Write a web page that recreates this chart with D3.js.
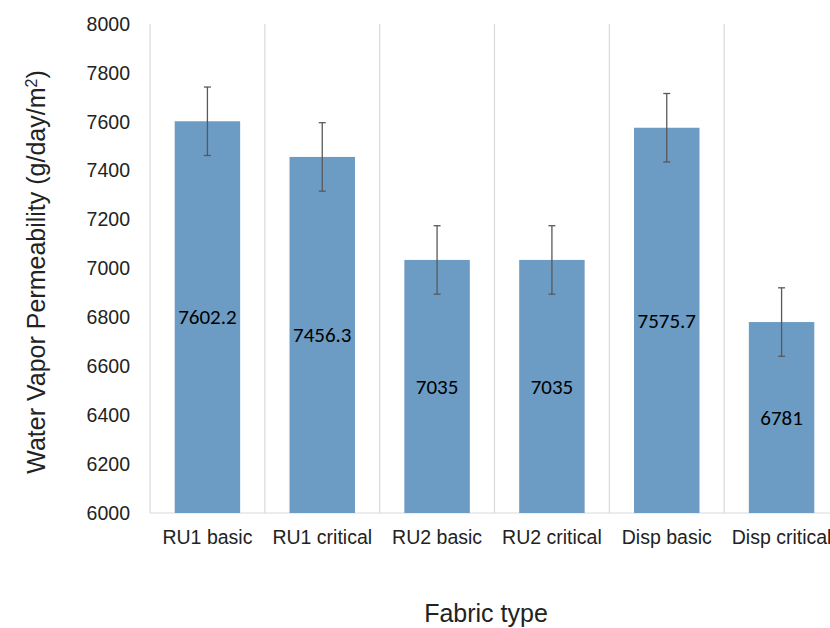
<!DOCTYPE html>
<html><head><meta charset="utf-8">
<script src="https://cdn.jsdelivr.net/npm/d3@7"></script>
<style>body{margin:0;background:#fff;} svg{display:block;}</style>
</head><body>
<svg id="c" width="830" height="628"></svg>
<script>
const categories = ["RU1 basic","RU1 critical","RU2 basic","RU2 critical","Disp basic","Disp critical"];
const values = [7602.2, 7456.3, 7035, 7035, 7575.7, 6781];
const errors = [140, 140, 140, 140, 140, 140];
const yTicks = [6000,6200,6400,6600,6800,7000,7200,7400,7600,7800,8000];

const svg = d3.select("#c");
const pL = 150, pR = 839, pT = 24, pB = 513;
const x = d3.scaleBand().domain(categories).range([pL, pR]).paddingInner(0.43).paddingOuter(0.215);
const xb = d3.scaleBand().domain(categories).range([pL, pR]);
const y = d3.scaleLinear().domain([6000, 8000]).range([pB, pT]);
const ff = "'Liberation Sans', Arial, sans-serif";

// vertical separators
svg.append("g").selectAll("line").data(categories).join("line")
  .attr("x1", d => xb(d)).attr("x2", d => xb(d))
  .attr("y1", pT).attr("y2", pB)
  .attr("stroke", "#d9d9d9").attr("stroke-width", 1.2);

// baseline
svg.append("line").attr("x1", pL).attr("x2", pR).attr("y1", pB).attr("y2", pB)
  .attr("stroke", "#d9d9d9").attr("stroke-width", 1.2);

// bars
svg.append("g").selectAll("rect").data(values).join("rect")
  .attr("x", (d,i) => x(categories[i])).attr("width", x.bandwidth())
  .attr("y", d => y(d)).attr("height", d => pB - y(d))
  .attr("fill", "#6c9bc3");

// error bars
const eg = svg.append("g").attr("stroke", "#595959").attr("stroke-width", 1.3);
values.forEach((v,i) => {
  const cx = x(categories[i]) + x.bandwidth()/2;
  eg.append("line").attr("x1", cx).attr("x2", cx).attr("y1", y(v+errors[i])).attr("y2", y(v-errors[i]));
  eg.append("line").attr("x1", cx-3.5).attr("x2", cx+3.5).attr("y1", y(v+errors[i])).attr("y2", y(v+errors[i]));
  eg.append("line").attr("x1", cx-3.5).attr("x2", cx+3.5).attr("y1", y(v-errors[i])).attr("y2", y(v-errors[i]));
});

// data labels
svg.append("g").selectAll("text").data(values).join("text")
  .attr("x", (d,i) => x(categories[i]) + x.bandwidth()/2)
  .attr("y", d => (y(d) + pB)/2)
  .attr("dy", "0.35em").attr("text-anchor", "middle")
  .attr("font-family", "Carlito, 'Open Sans', 'DejaVu Sans', sans-serif").attr("font-size", 21)
  .attr("fill", "#000").text(d => d);

// y ticks
const ya = d3.axisLeft(y).tickValues(yTicks).tickFormat(d3.format("d")).tickSize(0).tickPadding(0);
const yg = svg.append("g").attr("transform", `translate(130,0)`).call(ya);
yg.select(".domain").remove();
yg.selectAll("text").attr("font-family", ff).attr("font-size", 19.5).attr("fill", "#222");

// x labels
const xa = d3.axisBottom(xb).tickSize(0).tickPadding(0);
const xg = svg.append("g").attr("transform", `translate(0,544)`).call(xa);
xg.select(".domain").remove();
xg.selectAll("text").attr("dy", 0).attr("y", 0).attr("font-family", ff).attr("font-size", 19.5).attr("fill", "#222");

// titles
svg.append("text").attr("x", 486).attr("y", 622).attr("text-anchor", "middle")
  .attr("font-family", ff).attr("font-size", 25).attr("fill", "#222")
  .text("Fabric type");
const yt = svg.append("text").attr("transform", "translate(45,272) rotate(-90)").attr("text-anchor", "middle")
  .attr("font-family", ff).attr("font-size", 25).attr("fill", "#222");
yt.append("tspan").text("Water Vapor Permeability (g/day/m");
yt.append("tspan").attr("baseline-shift", "super").attr("font-size", 16).text("2");
yt.append("tspan").text(")");
</script>
</body></html>
